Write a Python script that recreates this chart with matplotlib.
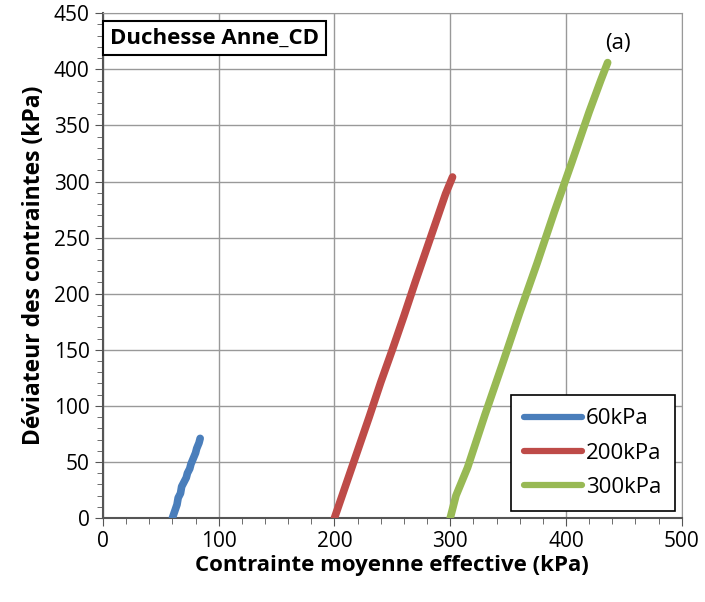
import numpy as np
import matplotlib.pyplot as plt
from matplotlib.ticker import MultipleLocator

# (p' in kPa, q in kPa)
p_60 = [60, 62, 64, 65, 67, 68, 70, 72, 73, 75, 76, 78, 80, 81, 83, 84]
q_60 = [0, 6, 12, 18, 22, 28, 32, 36, 40, 44, 48, 53, 58, 62, 67, 71]
p_200 = [200, 210, 220, 230, 240, 250, 260, 270, 280, 290, 296, 302]
q_200 = [0, 30, 60, 90, 121, 150, 180, 211, 241, 271, 289, 304]
p_300 = [300, 305, 315, 330, 345, 360, 375, 390, 405, 420, 430, 436]
q_300 = [0, 20, 45, 92, 137, 183, 227, 273, 317, 362, 390, 406]

labels = ['60kPa', '200kPa', '300kPa']
colors = ['#4a7ebb', '#be4b48', '#98b954']

plt.rcParams['font.family'] = ['Open Sans', 'DejaVu Sans']

fig = plt.figure(figsize=(7.05, 6.02), dpi=100)
ax = fig.add_axes([0.146, 0.1395, 0.821, 0.8385])

for p, q, lab, c in zip([p_60, p_200, p_300], [q_60, q_200, q_300], labels, colors):
	ax.plot(p, q, color=c, lw=5.5, solid_capstyle='round', label=lab, zorder=3)

ax.set_xlim(0, 500)
ax.set_ylim(0, 450)
ax.xaxis.set_major_locator(MultipleLocator(100))
ax.xaxis.set_minor_locator(MultipleLocator(20))
ax.yaxis.set_major_locator(MultipleLocator(50))
ax.yaxis.set_minor_locator(MultipleLocator(10))
ax.grid(True, which='major', color='#999999', lw=1)
ax.set_axisbelow(True)
ax.tick_params(which='both', direction='out', labelsize=15, color='#555555')
ax.tick_params(which='major', length=6)
ax.tick_params(which='minor', length=4)
for s in ['top', 'right']:
	ax.spines[s].set_color('#999999')
for s in ['left', 'bottom']:
	ax.spines[s].set_color('#555555')
	ax.spines[s].set_linewidth(1.5)

ax.set_xlabel('Contrainte moyenne effective (kPa)', fontsize=16, fontweight='bold', labelpad=2)
ax.set_ylabel('Déviateur des contraintes (kPa)', fontsize=16.5, fontweight='bold', labelpad=6)

ax.text(0.012, 0.972, 'Duchesse Anne_CD', transform=ax.transAxes, fontsize=16,
	fontweight='bold', va='top', ha='left',
	bbox=dict(boxstyle='square,pad=0.3', fc='white', ec='black', lw=1.5))
ax.text(0.89, 0.94, '(a)', transform=ax.transAxes, fontsize=16, va='center', ha='center')

leg = ax.legend(loc='lower right', fontsize=16, frameon=True, fancybox=False,
	edgecolor='black', borderpad=0.6, labelspacing=0.6, handlelength=2.6,
	handletextpad=0.2, borderaxespad=0.3, bbox_to_anchor=(1.0, 0.0), framealpha=1)
leg.get_frame().set_linewidth(1.2)
for h in leg.get_lines():
	h.set_linewidth(4.5)

fig.savefig('out.png', dpi=100)
